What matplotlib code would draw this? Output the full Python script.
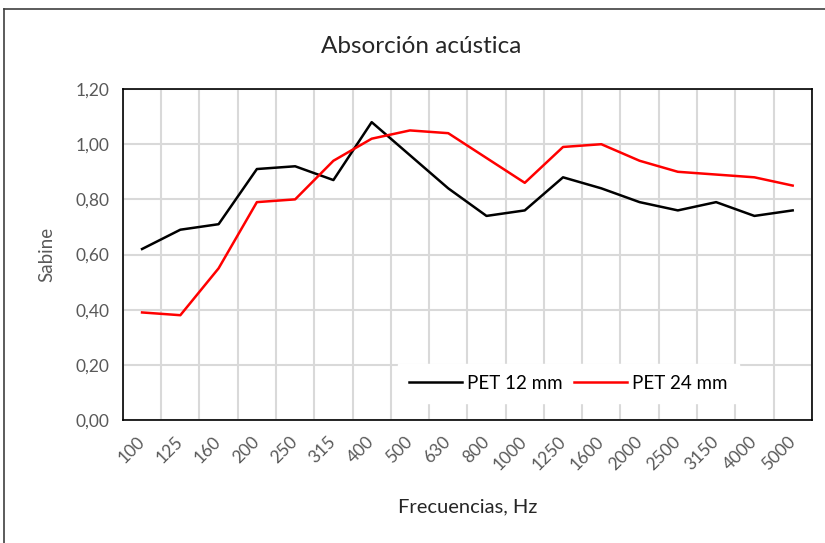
import numpy as np
import matplotlib
matplotlib.use("Agg")
import matplotlib.pyplot as plt
from matplotlib.lines import Line2D
from matplotlib.ticker import FuncFormatter

plt.rcParams['font.family'] = ['Lato', 'DejaVu Sans']

# Frecuencias (Hz) y absorción (Sabine)
freqs = ['100', '125', '160', '200', '250', '315', '400', '500', '630', '800',
         '1000', '1250', '1600', '2000', '2500', '3150', '4000', '5000']
pet12 = [0.62, 0.69, 0.71, 0.91, 0.92, 0.87, 1.08, 0.96, 0.84, 0.74,
         0.76, 0.88, 0.84, 0.79, 0.76, 0.79, 0.74, 0.76]
pet24 = [0.39, 0.38, 0.55, 0.79, 0.80, 0.94, 1.02, 1.05, 1.04, 0.95,
         0.86, 0.99, 1.00, 0.94, 0.90, 0.89, 0.88, 0.85]

fig = plt.figure(figsize=(8.25, 5.43), dpi=100)
ax = fig.add_axes([0.149, 0.2265, 0.835, 0.6095])

x = np.arange(len(freqs))
ax.plot(x, pet12, color='black', lw=1.8, label='PET 12 mm')
ax.plot(x, pet24, color='#ff0000', lw=1.8, label='PET 24 mm')

ax.set_xlim(-0.5, len(freqs) - 0.5)
ax.set_ylim(0, 1.2)
ax.set_yticks(np.arange(0, 1.21, 0.2))
ax.yaxis.set_major_formatter(FuncFormatter(lambda v, p: f'{v:.2f}'.replace('.', ',')))

# grid between categories (vertical) and at y ticks
ax.set_xticks(x)
ax.set_xticks(np.arange(-0.5, len(freqs), 1), minor=True)
ax.set_xticklabels(freqs, rotation=45, ha='right', va='center',
                   rotation_mode='anchor', color='#595959', fontsize=12.5)
ax.grid(which='minor', axis='x', color='#d9d9d9', lw=1.5)
ax.grid(which='major', axis='y', color='#d9d9d9', lw=1.5)
ax.set_axisbelow(True)
ax.tick_params(axis='x', which='both', length=0, pad=14)
ax.tick_params(axis='y', length=0, pad=10, labelcolor='#595959', labelsize=12.5)

for s in ax.spines.values():
    s.set_color('black')
    s.set_linewidth(1.2)

ax.set_ylabel('Sabine', color='#595959', fontsize=13.5, labelpad=14)
ax.set_xlabel('Frecuencias, Hz', color='#262626', fontsize=14.5, labelpad=18)
fig.text(0.511, 0.915, 'Absorción acústica', ha='center', va='center',
         fontsize=17.5, color='#262626')

leg = ax.legend(loc='lower left', bbox_to_anchor=(0.399, 0.051), ncol=2,
                frameon=True, fancybox=False, fontsize=13.5, handlelength=2.8,
                handletextpad=0.3, columnspacing=0.6, borderpad=0.6,
                borderaxespad=0)
leg.get_frame().set_edgecolor('white')
leg.get_frame().set_facecolor('white')
leg.get_frame().set_alpha(1)

# outer chart frame (left and top edges)
fig.add_artist(Line2D([0.005, 0.005], [0, 0.984], color='#404040', lw=1.2,
                      transform=fig.transFigure))
fig.add_artist(Line2D([0.005, 1.0], [0.984, 0.984], color='#404040', lw=1.2,
                      transform=fig.transFigure))

fig.savefig('out.png', dpi=100)
